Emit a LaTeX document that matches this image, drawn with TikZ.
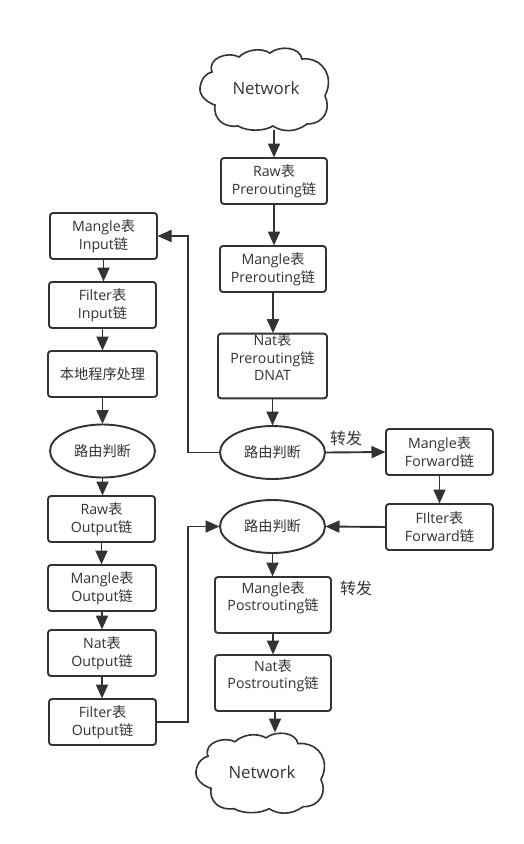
\documentclass[tikz,border=0pt]{standalone}
\usepackage{fontspec}
\setmainfont{Open Sans}
\newfontfamily\cjk{Noto Sans CJK SC}
\newcommand{\zh}[1]{{\cjk #1}}
\usetikzlibrary{arrows.meta}
\definecolor{ink}{HTML}{333333}
\tikzset{
  base/.style={draw=ink,line width=1.9pt,text=ink,align=center,inner sep=0pt,outer sep=0pt,font=\fontsize{14.2}{17.6}\selectfont},
  tbox/.style={base,rectangle,rounded corners=3pt},
  oval/.style={base,ellipse,minimum width=105pt,minimum height=53pt},
  cloudlabel/.style={text=ink,inner sep=0pt,font=\fontsize{16.8}{18}\selectfont},
  note/.style={text=ink,inner sep=0pt,font=\cjk\fontsize{16}{18}\selectfont},
  flow/.style={draw=ink,line width=1.9pt,-{Triangle[length=14pt,width=12pt]},shorten >=0.5pt},
  cloudline/.style={draw=ink,line width=1.6pt,fill=white}
}
\usetikzlibrary{shapes.geometric}
\newcommand{\cloudpath}[3]{%
  \begin{scope}[shift={(#1,#2)},yscale=#3]
  \draw[cloudline] (0,40)
   .. controls (1,30) and (7,25) .. (12,24)
   .. controls (7,10) and (28,3) .. (39,9)
   .. controls (46,2) and (60,-1) .. (70,5)
   .. controls (80,-3) and (100,-1) .. (102,11)
   .. controls (118,9) and (131,22) .. (128,39)
   .. controls (127,45) and (125,46) .. (125,48)
   .. controls (131,60) and (125,76) .. (107,76)
   .. controls (95,85) and (82,84) .. (73,78)
   .. controls (65,83) and (48,84) .. (38,78)
   .. controls (25,80) and (13,72) .. (15,57)
   .. controls (8,55) and (-1,48) .. (0,40) -- cycle;
  \end{scope}}
\begin{document}
\begin{tikzpicture}[x=1pt,y=-1pt]
\useasboundingbox (0,0) rectangle (524,844);
\fill[white] (0,0) rectangle (524,844);
% clouds
\cloudpath{200}{48}{1}
\cloudpath{196}{733}{0.97}
\node[cloudlabel] (net1) at (266,88) {Network};
\node[cloudlabel] (net2) at (262,772) {Network};
\coordinate (net1out) at (274,130);
\coordinate (net2in) at (275,733);
% centre column
\node[tbox,minimum width=106pt,minimum height=46pt] (rawpre) at (274,181) {Raw\zh{表}\\Prerouting\zh{链}};
\node[tbox,minimum width=106pt,minimum height=46pt] (manpre) at (273,269) {Mangle\zh{表}\\Prerouting\zh{链}};
\node[tbox,minimum width=109pt,minimum height=62pt] (natpre) at (272.5,366) {Nat\zh{表}\\Prerouting\zh{链}\\DNAT\\~};
\node[oval] (route1) at (272.5,452.5) {\zh{路由判断}};
\node[tbox,minimum width=107pt,minimum height=46pt] (manfwd) at (439.5,452) {Mangle\zh{表}\\Forward\zh{链}};
\node[tbox,minimum width=107pt,minimum height=46pt] (filfwd) at (439.5,527) {FIlter\zh{表}\\Forward\zh{链}};
\node[oval] (route2) at (272.5,526.5) {\zh{路由判断}};
\node[tbox,minimum width=116pt,minimum height=56pt] (manpost) at (273,605) {Mangle\zh{表}\\Postrouting\zh{链}\\~};
\node[tbox,minimum width=116pt,minimum height=56pt] (natpost) at (273,683) {Nat\zh{表}\\Postrouting\zh{链}\\~};
% left column
\node[tbox,minimum width=107pt,minimum height=46pt] (manin) at (103.5,236) {Mangle\zh{表}\\Input\zh{链}};
\node[tbox,minimum width=107pt,minimum height=46pt] (filin) at (102.5,305) {Filter\zh{表}\\Input\zh{链}};
\node[tbox,minimum width=109pt,minimum height=46pt] (local) at (102.5,374) {\zh{本地程序处理}};
\node[oval] (route3) at (102.5,451) {\zh{路由判断}};
\node[tbox,minimum width=107pt,minimum height=46pt] (rawout) at (101.5,519) {Raw\zh{表}\\Output\zh{链}};
\node[tbox,minimum width=108pt,minimum height=46pt] (manout) at (102,588) {Mangle\zh{表}\\Output\zh{链}};
\node[tbox,minimum width=108pt,minimum height=46pt] (natout) at (102,653) {Nat\zh{表}\\Output\zh{链}};
\node[tbox,minimum width=107pt,minimum height=46pt] (filout) at (102.5,722) {Filter\zh{表}\\Output\zh{链}};
% notes
\node[note] (fw1) at (346,438) {转发};
\node[note] (fw2) at (356,588) {转发};
% connectors
\draw[flow] (net1out) -- (rawpre.north -| net1out);
\draw[flow] (rawpre.south) -- (rawpre.south |- manpre.north);
\draw[flow] (manpre.south) -- (manpre.south |- natpre.north);
\draw[flow] (natpre.south) -- (natpre.south |- route1.north);
\draw[flow] (route1.east) -- (manfwd.west);
\draw[flow] (manfwd.south) -- (filfwd.north);
\draw[flow] (filfwd.west) -- (route2.east);
\draw[flow] (route2.south) -- (route2.south |- manpost.north);
\draw[flow] (manpost.south) -- (manpost.south |- natpost.north);
\draw[flow] (natpost.south -| net2in) -- (net2in);
\draw[flow] (route1.west) -- ++(-32,0) |- (manin.east);
\draw[flow] (filout.east) -- ++(32,0) |- (route2.west);
\draw[flow] (manin.south) -- (manin.south |- filin.north);
\draw[flow] (filin.south) -- (filin.south |- local.north);
\draw[flow] (local.south) -- (local.south |- route3.north);
\draw[flow] (route3.south) -- (route3.south |- rawout.north);
\draw[flow] (rawout.south) -- (rawout.south |- manout.north);
\draw[flow] (manout.south) -- (manout.south |- natout.north);
\draw[flow] (natout.south) -- (natout.south |- filout.north);
\end{tikzpicture}
\end{document}
